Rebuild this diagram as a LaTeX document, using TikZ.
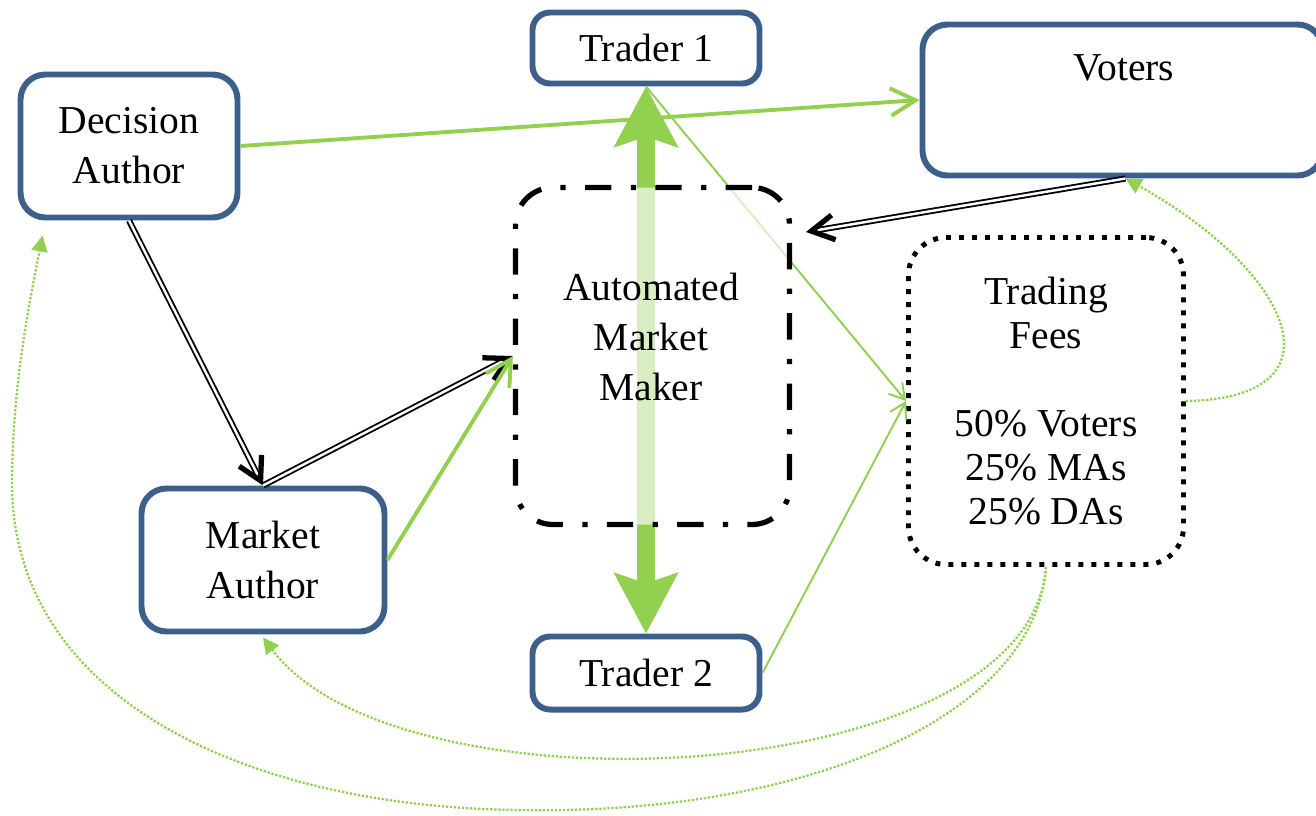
\documentclass[tikz,border=0pt]{standalone}
\usepackage{fontspec}
\setmainfont{Liberation Serif}
\usetikzlibrary{arrows.meta}
\definecolor{boxblue}{RGB}{60,95,140}
\definecolor{feegreen}{RGB}{146,208,80}

\begin{document}
\begin{tikzpicture}
  [
    every node/.style={font=\fontsize{22.5}{28.5}\selectfont, align=center},
    agent/.style={draw=boxblue, line width=3.4pt, rounded corners=0.5cm, fill=white},
    trader/.style={agent, rounded corners=0.35cm},
    maker/.style={draw=black, line width=3pt, dash pattern=on 15pt off 11pt on 3pt off 11pt, rounded corners=0.75cm, fill=white, fill opacity=0.66},
    fees/.style={draw=black, line width=2.8pt, dash pattern=on 2.8pt off 4.6pt, rounded corners=0.75cm, font=\fontsize{22.5}{25}\selectfont},
    flow/.style={draw=feegreen, line width=2.2pt, -{Straight Barb[length=0.5cm, width=0.55cm]}},
    payment/.style={draw=feegreen, line width=1.1pt, -{Straight Barb[length=0.3cm, width=0.36cm]}},
    link/.style={draw=black, double=white, line width=1.05pt, double distance=1.4pt, -{Straight Barb[length=0.45cm, width=0.5cm, line width=3pt]}},
    share/.style={draw=feegreen, line width=1.3pt, dash pattern=on 1.3pt off 1pt, -{Triangle[length=0.32cm, width=0.32cm]}}
  ]
  \useasboundingbox (0,0) rectangle (26.32,-16.3);

  \node[trader, minimum width=4.54cm, minimum height=1.42cm] (trader1) at (12.92,-0.96) {Trader 1};
  \node[trader, minimum width=4.54cm, minimum height=1.46cm] (trader2) at (12.92,-13.46) {Trader 2};
  \node[agent, minimum width=4.34cm, minimum height=2.86cm] (decision) at (2.58,-2.92) {Decision\\Author};
  \node[agent, minimum width=4.86cm, minimum height=2.86cm] (market) at (5.26,-11.2) {Market\\Author};
  \node[agent, minimum width=8.0cm, minimum height=3.02cm] (voters) at (22.45,-2.0) {};
  \node (voterslabel) at (22.48,-1.36) {Voters};
  \node[fees, minimum width=5.5cm, minimum height=6.54cm] (fees) at (20.92,-8.02)
    {Trading\\Fees\\[25pt]50\% Voters\\25\% MAs\\25\% DAs};

  \draw[line width=10pt, feegreen, {Stealth[length=1.2cm, width=1.25cm, inset=0.2cm]}-{Stealth[length=1.2cm, width=1.25cm, inset=0.2cm]}]
    (trader1.south) -- (trader2.north);
  \draw[payment] (trader1.south) -- (fees.west);

  \node[maker, minimum width=5.48cm, minimum height=6.74cm] (amm) at (13.05,-7.12) {};
  \node (ammlabel) at (13.02,-6.74) {Automated\\Market\\Maker};
  \coordinate (ammcorner) at (16.12,-4.64);

  \draw[flow] (decision.east) -- (voters.west);
  \draw[link] (decision.south) -- (market.north);
  \draw[link] (market.north) -- (amm.west);
  \draw[link] ([xshift=0.06cm]voters.south) -- (ammcorner);
  \draw[flow] (market.east) -- (amm.west);
  \draw[payment] (trader2.east) -- (fees.west);
  \draw[share] (fees.east) .. controls (27.0,-7.96) and (25.8,-5.4) .. ([xshift=0.06cm]voters.south);
  \draw[share] (fees.south) .. controls (20.6,-15.8) and (8.0,-16.4) .. ([yshift=-0.06cm]market.south);
  \draw[share] (fees.south) .. controls (20.7,-14.4) and (16.0,-16.3) .. (10.44,-16.2)
    .. controls (5.0,-16.16) and (0.2,-14.0) .. (0.24,-9.6)
    .. controls (0.26,-7.6) and (0.6,-6.0) .. ([shift={(0.5,-0.3)}]decision.south west);
\end{tikzpicture}
\end{document}
